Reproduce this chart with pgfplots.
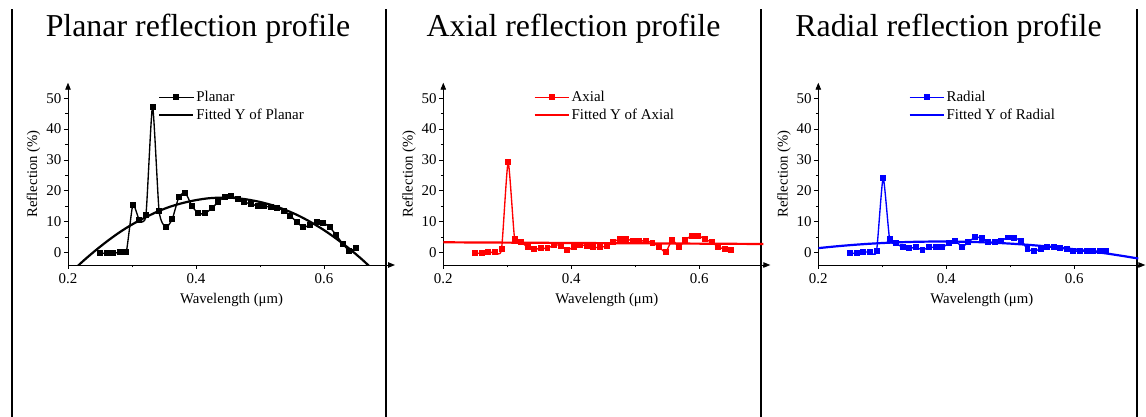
\documentclass[border=0pt]{standalone}
\usepackage{fontspec}
\setmainfont{Liberation Serif}
\usepackage{pgfplots}
\pgfplotsset{compat=1.18}
\usetikzlibrary{arrows.meta}

\pgfplotsset{
  refl/.style={
    scale only axis, width=327bp, height=182.3bp,
    xmin=0.2, xmax=0.711, ymin=-4, ymax=55,
    axis lines=left,
    axis line style={line width=0.9bp, -{Triangle[length=7bp,width=5.5bp]}},
    tick align=outside,
    xtick={0.2,0.4,0.6}, minor xtick={0.3,0.5,0.7},
    ytick={0,10,20,30,40,50}, minor ytick={5,15,25,35,45},
    major tick length=4bp, minor tick length=2.5bp,
    every tick/.style={black, line width=0.8bp},
    /pgf/number format/assume math mode=true,
    ticklabel style={font=\fontsize{15}{17}\selectfont},
    yticklabel style={inner sep=2.5bp},
    xticklabel style={inner sep=4.5bp},
    label style={font=\fontsize{14.8}{17}\selectfont},
    xlabel={Wavelength (μm)}, ylabel={Reflection (\%)},
    xlabel style={yshift=-1.5bp},
    legend cell align=left,
    legend style={draw=none, fill=none, at={(0.275,0.965)}, anchor=north west,
      font=\fontsize{15}{17}\selectfont, inner sep=0pt, row sep=1.5bp},
    legend image code/.code={\draw[mark repeat=2, mark phase=2, #1] plot coordinates {(0bp,0bp) (17bp,0bp) (34bp,0bp)};},
    clip=true,
  },
  dat/.style={line width=1.35bp, mark=square*, mark size=2.3bp, smooth, tension=0.35, mark options={solid}},
  fit/.style={line width=2.2bp, smooth, no marks},
}

\begin{document}
\begin{tikzpicture}
\useasboundingbox (0,0) rectangle (1146bp,417bp);
% panel separators
\foreach \xx in {12,386,761,1137} {\draw[line width=2bp] (\xx bp,0bp) -- (\xx bp,407.5bp);}
% titles
\node[anchor=base, font=\fontsize{32}{36}\selectfont, inner sep=0pt] at (198bp,380.3bp) {Planar reflection profile};
\node[anchor=base, font=\fontsize{32}{36}\selectfont, inner sep=0pt] at (573.5bp,380.3bp) {Axial reflection profile};
\node[anchor=base, font=\fontsize{32}{36}\selectfont, inner sep=0pt] at (948.5bp,380.3bp) {Radial reflection profile};

% Planar
\begin{axis}[refl, at={(68bp,152bp)}, anchor=south west]
\addplot[dat, black] coordinates {(0.2500,-0.2)(0.2603,-0.2)(0.2705,-0.2)(0.2808,0.1)(0.2910,0.1)(0.3013,15.4)(0.3115,10.6)(0.3218,12.2)(0.3321,47.2)(0.3423,13.6)(0.3526,8.2)(0.3628,10.8)(0.3731,17.9)(0.3833,19.4)(0.3936,15.1)(0.4038,12.7)(0.4141,12.7)(0.4244,14.3)(0.4346,16.4)(0.4449,18.1)(0.4551,18.4)(0.4654,17.3)(0.4756,16.3)(0.4859,15.8)(0.4962,15.1)(0.5064,15.1)(0.5167,14.7)(0.5269,14.4)(0.5372,13.6)(0.5474,12.0)(0.5577,9.8)(0.5679,8.2)(0.5782,9.0)(0.5885,9.8)(0.5987,9.7)(0.6090,8.2)(0.6192,5.7)(0.6295,2.8)(0.6397,0.6)(0.6500,1.6)};
\addlegendentry{Planar}
\addplot[fit, black] coordinates {(0.20,-7.4)(0.22,-3.4)(0.24,0.2)(0.26,3.5)(0.28,6.5)(0.30,9.1)(0.32,11.3)(0.34,13.3)(0.36,14.9)(0.38,16.1)(0.40,17.0)(0.42,17.6)(0.44,17.8)(0.46,17.7)(0.48,17.2)(0.50,16.4)(0.52,15.3)(0.54,13.8)(0.56,12.0)(0.58,9.8)(0.60,7.3)(0.62,4.4)(0.64,1.2)(0.66,-2.3)(0.68,-6.2)(0.70,-10.4)};
\addlegendentry{Fitted Y of Planar}
\end{axis}

% Axial
\begin{axis}[refl, at={(443.3bp,152bp)}, anchor=south west]
\addplot[dat, red] coordinates {(0.2500,-0.2)(0.2603,-0.2)(0.2705,0.1)(0.2808,0.1)(0.2910,1.1)(0.3013,29.2)(0.3115,4.4)(0.3218,3.4)(0.3321,1.7)(0.3423,1.1)(0.3526,1.4)(0.3628,1.4)(0.3731,2.5)(0.3833,2.3)(0.3936,0.8)(0.4038,1.9)(0.4141,2.5)(0.4244,2.2)(0.4346,1.7)(0.4449,1.7)(0.4551,2.2)(0.4654,3.4)(0.4756,4.4)(0.4859,4.4)(0.4962,3.8)(0.5064,3.8)(0.5167,3.8)(0.5269,3.2)(0.5372,1.9)(0.5474,0.1)(0.5577,4.1)(0.5679,1.9)(0.5782,4.1)(0.5885,5.5)(0.5987,5.5)(0.6090,4.3)(0.6192,3.4)(0.6295,1.9)(0.6397,1.1)(0.6500,0.8)};
\addlegendentry{Axial}
\addplot[fit, red] coordinates {(0.20,3.35)(0.70,2.8)};
\addlegendentry{Fitted Y of Axial}
\end{axis}

% Radial
\begin{axis}[refl, at={(818.3bp,152bp)}, anchor=south west]
\addplot[dat, blue] coordinates {(0.2500,-0.2)(0.2603,-0.2)(0.2705,0.2)(0.2808,0.2)(0.2910,0.5)(0.3013,24.1)(0.3115,4.3)(0.3218,3.0)(0.3321,1.7)(0.3423,1.4)(0.3526,1.7)(0.3628,0.9)(0.3731,1.7)(0.3833,1.7)(0.3936,1.7)(0.4038,3.0)(0.4141,3.9)(0.4244,1.9)(0.4346,3.4)(0.4449,5.0)(0.4551,4.7)(0.4654,3.4)(0.4756,3.4)(0.4859,3.9)(0.4962,4.9)(0.5064,4.7)(0.5167,3.9)(0.5269,1.2)(0.5372,0.5)(0.5474,1.2)(0.5577,1.7)(0.5679,1.7)(0.5782,1.4)(0.5885,1.1)(0.5987,0.5)(0.6090,0.5)(0.6192,0.5)(0.6295,0.5)(0.6397,0.5)(0.6500,0.6)};
\addlegendentry{Radial}
\addplot[fit, blue] coordinates {(0.200,1.46)(0.225,1.98)(0.250,2.43)(0.275,2.81)(0.300,3.11)(0.325,3.34)(0.350,3.50)(0.375,3.58)(0.400,3.60)(0.425,3.54)(0.450,3.40)(0.475,3.20)(0.500,2.92)(0.525,2.57)(0.550,2.15)(0.575,1.66)(0.600,1.09)(0.625,0.45)(0.650,-0.26)(0.675,-1.05)(0.700,-1.90)};
\addlegendentry{Fitted Y of Radial}
\end{axis}
\end{tikzpicture}
\end{document}
